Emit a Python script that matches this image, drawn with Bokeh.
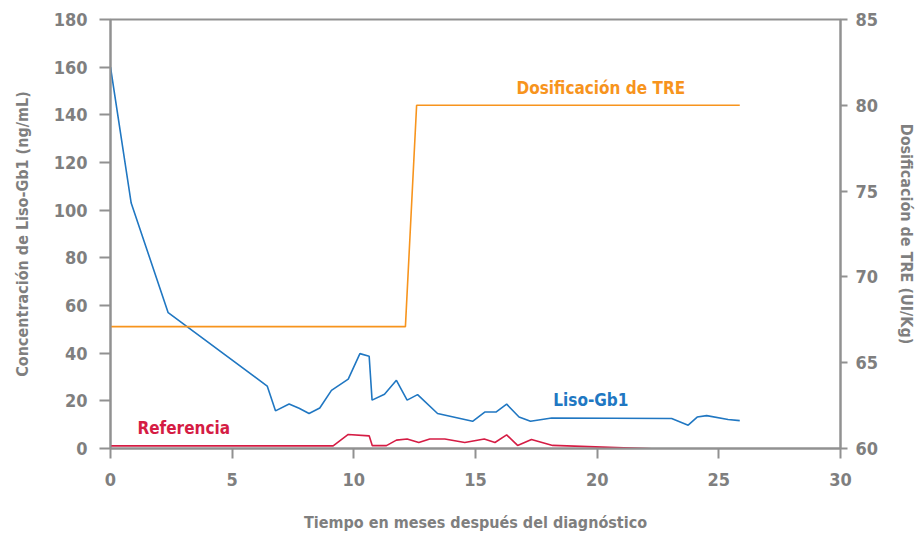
from bokeh.plotting import figure
from bokeh.models import LinearAxis, Range1d, Label, FixedTicker
from bokeh.embed import file_html
from bokeh.resources import INLINE

# Liso-Gb1 concentration (ng/mL)
liso_x = [0, 0.85, 2.37, 6.44, 6.78, 7.34, 7.75, 8.16, 8.60, 9.08, 9.77, 10.25, 10.63,
          10.75, 11.26, 11.75, 12.19, 12.62, 13.44, 14.88, 15.38, 15.84, 16.28, 16.79,
          17.26, 18.13, 23.06, 23.74, 24.11, 24.50, 25.38, 25.86]
liso_y = [160.0, 103.0, 57.0, 26.2, 15.8, 18.7, 16.9, 14.7, 17.0, 24.4, 29.1, 39.8, 38.7,
          20.3, 22.8, 28.6, 20.3, 22.6, 14.7, 11.4, 15.3, 15.3, 18.6, 13.2,
          11.4, 12.8, 12.6, 9.8, 13.2, 13.8, 12.2, 11.7]

# Reference (ng/mL)
ref_x = [0, 9.15, 9.77, 10.63, 10.76, 11.34, 11.75, 12.19, 12.67, 13.12, 13.74, 14.56,
         15.36, 15.80, 16.28, 16.73, 17.30, 18.17, 25.86]
ref_y = [1.1, 1.1, 5.9, 5.3, 1.2, 1.2, 3.5, 4.0, 2.5, 4.0, 4.0, 2.5,
         4.0, 2.5, 5.7, 1.3, 3.8, 1.3, -1.4]

# TRE dose (UI/Kg)
tre_x = [0, 12.12, 12.58, 25.86]
tre_y = [67.1, 67.1, 80.0, 80.0]

x_ticks = [0, 5, 10, 15, 20, 25, 30]
left_ticks = [0, 20, 40, 60, 80, 100, 120, 140, 160, 180]
right_ticks = [60, 65, 70, 75, 80, 85]

FONT = "DejaVu Sans Condensed"
GRAY = "#7f7f7f"
AXC = "#919191"
BLUE = "#2077c2"
ORANGE = "#f7941d"
RED = "#d51c44"

p = figure(width=919, height=537, output_backend="svg", toolbar_location=None,
           x_range=Range1d(0, 30), y_range=Range1d(0, 180),
           min_border_left=110, min_border_right=78, min_border_top=19, min_border_bottom=89)
p.extra_y_ranges = {"tre": Range1d(60, 85)}
p.grid.visible = False
p.outline_line_color = AXC
p.outline_line_width = 2
p.background_fill_color = "white"
p.border_fill_color = "white"

p.line(liso_x, liso_y, line_color=BLUE, line_width=1.6)
p.line(ref_x, ref_y, line_color=RED, line_width=1.6)
p.line(tre_x, tre_y, line_color=ORANGE, line_width=1.6, y_range_name="tre")

def style(ax, tick_out, standoff, title_standoff):
    ax.axis_line_color = AXC
    ax.axis_line_width = 2
    ax.major_tick_line_color = AXC
    ax.major_tick_line_width = 2
    ax.major_tick_out = tick_out
    ax.major_tick_in = 0
    ax.minor_tick_line_color = None
    ax.major_label_text_font = FONT
    ax.major_label_text_font_style = "bold"
    ax.major_label_text_font_size = "18px"
    ax.major_label_text_color = GRAY
    ax.major_label_standoff = standoff
    ax.axis_label_text_font = FONT
    ax.axis_label_text_font_style = "bold"
    ax.axis_label_text_font_size = "16px"
    ax.axis_label_text_color = GRAY
    ax.axis_label_standoff = title_standoff

xa = p.xaxis[0]
xa.ticker = FixedTicker(ticks=x_ticks)
xa.axis_label = "Tiempo en meses después del diagnóstico"
style(xa, 10, 14, 24)

ya = p.yaxis[0]
ya.ticker = FixedTicker(ticks=left_ticks)
ya.axis_label = "Concentración de Liso-Gb1 (ng/mL)"
style(ya, 11, 12, 19)

ra = LinearAxis(y_range_name="tre", ticker=FixedTicker(ticks=right_ticks),
                axis_label="Dosificación de TRE (UI/Kg)")
style(ra, 7, 8, 16)
p.add_layout(ra, "right")

def lab(x, y, text, color, rng="default"):
    l = Label(x=x, y=y, text=text, text_color=color, text_font=FONT,
              text_font_style="bold", text_font_size="17px",
              text_align="center", text_baseline="middle", y_range_name=rng)
    p.add_layout(l)

lab(20.15, 81.0, "Dosificación de TRE", ORANGE, "tre")
lab(19.74, 20.25, "Liso-Gb1", BLUE)
lab(3.01, 8.5, "Referencia", RED)

open("out.html", "w").write(file_html(p, INLINE))
